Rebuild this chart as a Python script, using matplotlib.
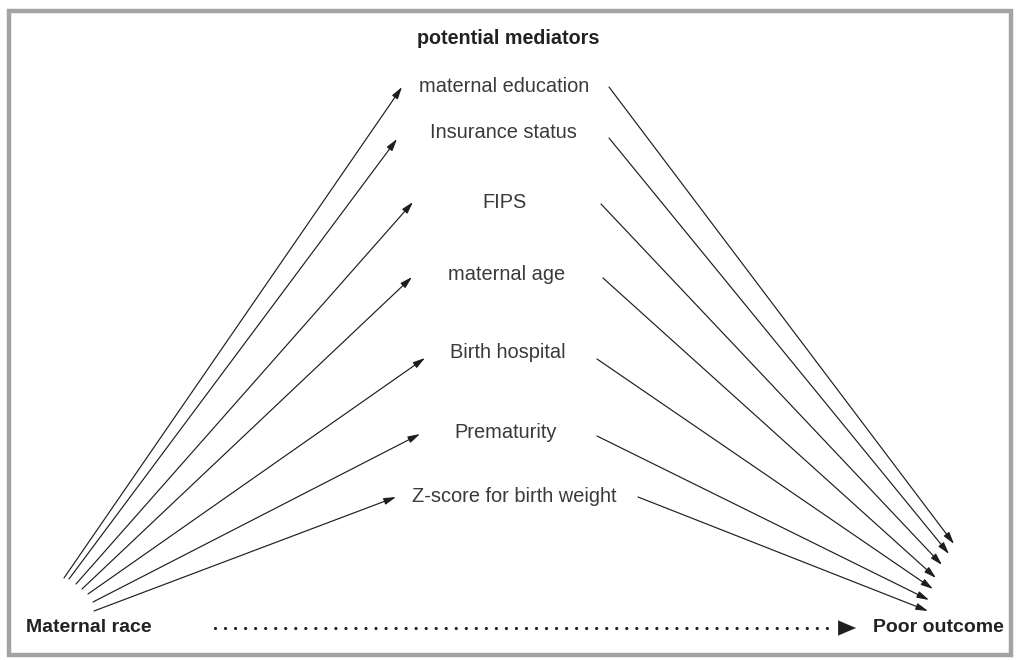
import matplotlib
matplotlib.use("Agg")
import matplotlib.pyplot as plt
from matplotlib.patches import Rectangle

plt.rcParams['font.family'] = ['Liberation Sans', 'DejaVu Sans']

# diagram content
title = "potential mediators"
exposure = "Maternal race"
outcome = "Poor outcome"
mediators = ["maternal education", "Insurance status", "FIPS", "maternal age",
             "Birth hospital", "Prematurity", "Z-score for birth weight"]

# layout (pixel space, y downward)
label_x = [504, 503, 505, 507, 508, 506, 514]
label_y = [86, 133, 203, 275, 353, 432, 496]
left_start = [(64, 578), (69, 579), (76, 584), (82, 589), (88, 594), (93, 602), (94, 611)]
left_tip = [(402, 87), (397, 139), (413, 202), (412, 277), (425, 358), (420, 434), (396, 497)]
right_start = [(609, 87), (609, 138), (601, 204), (603, 278), (597, 359), (597, 436), (638, 497)]
right_tip = [(954, 544), (949, 554), (942, 565), (936, 578), (933, 589), (929, 600), (928, 611)]

fig = plt.figure(figsize=(10.16, 6.6), dpi=100)
ax = fig.add_axes([0, 0, 1, 1])
ax.set_xlim(0, 1016)
ax.set_ylim(660, 0)
ax.axis('off')

# grey frame
ax.add_patch(Rectangle((9, 11), 1002, 644, fill=False, edgecolor='#a3a3a3', lw=3.2))

ax.text(508, 38, title, ha='center', va='center', fontsize=14.2,
        fontweight='bold', color='#222222')

arrow_style = dict(arrowstyle='-|>,head_length=0.6,head_width=0.17',
                   color='#1e1e1e', lw=0.85, shrinkA=0, shrinkB=0, mutation_scale=12)

for name, x, y in zip(mediators, label_x, label_y):
    ax.text(x, y, name, ha='center', va='center', fontsize=14.4, color='#3a3a3a')

for s, t in zip(left_start, left_tip):
    ax.annotate('', xy=t, xytext=s, arrowprops=arrow_style)
for s, t in zip(right_start, right_tip):
    ax.annotate('', xy=t, xytext=s, arrowprops=arrow_style)

ax.text(26, 628, exposure, ha='left', va='center', fontsize=14,
        fontweight='bold', color='#222222')
ax.text(1004, 628, outcome, ha='right', va='center', fontsize=14,
        fontweight='bold', color='#222222')

# dotted direct path
ax.plot([215, 836], [628, 628], color='#1e1e1e', lw=2.3,
        linestyle=(0, (0.01, 3.13)), dash_capstyle='round')
ax.annotate('', xy=(856, 628), xytext=(840, 628),
            arrowprops=dict(arrowstyle='-|>,head_length=0.85,head_width=0.36',
                            color='#1e1e1e', lw=0.1, shrinkA=0, shrinkB=0,
                            mutation_scale=15))

fig.savefig('out.png', dpi=100)
